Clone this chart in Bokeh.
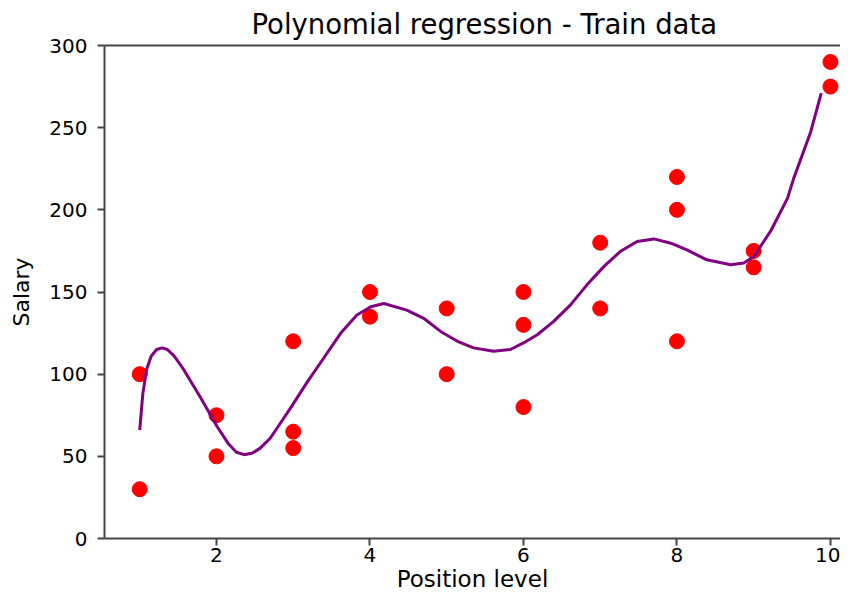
from bokeh.plotting import figure
from bokeh.models import Range1d, LinearAxis, FixedTicker
from bokeh.embed import file_html
from bokeh.resources import INLINE

# Training data
level = [1, 1, 2, 2, 3, 3, 3, 4, 4, 5, 5, 6, 6, 6, 7, 7, 8, 8, 8, 9, 9, 10, 10]
salary = [100, 30, 75, 50, 120, 65, 55, 150, 135, 140, 100, 150, 130, 80,
          180, 140, 220, 200, 120, 175, 165, 290, 275]

# Polynomial regression curve
curve_x = [1.00, 1.04, 1.09, 1.15, 1.22, 1.29, 1.36, 1.45, 1.57, 1.79, 2.01, 2.15,
           2.26, 2.36, 2.47, 2.57, 2.70, 2.83, 2.96, 3.18, 3.40, 3.62, 3.83, 4.01,
           4.18, 4.48, 4.70, 4.92, 5.14, 5.35, 5.61, 5.83, 6.00, 6.18, 6.39, 6.61,
           6.83, 7.05, 7.26, 7.48, 7.70, 7.92, 8.13, 8.39, 8.70, 8.87, 9.00, 9.22,
           9.44, 9.52, 9.74, 9.88]
curve_y = [66, 88, 103, 111, 115, 116, 115, 111, 103, 86, 68, 58,
           52.5, 51, 52, 55, 61, 70, 79, 95, 110, 125, 136, 141,
           143, 139, 134, 126, 120, 116, 114, 115, 119, 124, 132, 142,
           154.5, 165.6, 174.6, 180.7, 182.3, 179.7, 175.6, 169.6, 166.6, 167.6, 171.5, 187,
           207, 219, 247, 271]

x_ticks = [2, 4, 6, 8, 10]
y_ticks = [0, 50, 100, 150, 200, 250, 300]

FONT = "DejaVu Sans"
SPINE = "#444444"

p = figure(width=840, height=597,
           x_range=Range1d(0.541, 10.131), y_range=Range1d(0, 300),
           output_backend="svg", toolbar_location=None,
           min_border_left=104, min_border_right=0,
           min_border_top=44, min_border_bottom=59,
           title="Polynomial regression - Train data")

p.background_fill_color = "white"
p.border_fill_color = "white"
p.outline_line_color = None
p.xgrid.visible = False
p.ygrid.visible = False

p.title.text_font = FONT
p.title.text_font_size = "27.5px"
p.title.text_font_style = "normal"
p.title.text_color = "black"
p.title.align = "left"
p.title.offset = 147
p.title.standoff = 11

for ax in (p.xaxis[0], p.yaxis[0]):
    ax.axis_line_color = SPINE
    ax.axis_line_width = 2
    ax.major_tick_line_color = SPINE
    ax.major_tick_line_width = 2
    ax.major_tick_out = 7
    ax.major_tick_in = 0
    ax.minor_tick_line_color = None
    ax.major_label_text_font = FONT
    ax.major_label_text_font_size = "20px"
    ax.major_label_text_color = "black"
    ax.axis_label_text_font = FONT
    ax.axis_label_text_font_style = "normal"
    ax.axis_label_text_color = "black"

p.xaxis.ticker = FixedTicker(ticks=x_ticks)
p.yaxis.ticker = FixedTicker(ticks=y_ticks)
p.xaxis.axis_label = "Position level"
p.yaxis.axis_label = "Salary"
p.xaxis.axis_label_text_font_size = "23px"
p.yaxis.axis_label_text_font_size = "22px"
p.xaxis.major_label_standoff = 2
p.yaxis.major_label_standoff = 10
p.xaxis.axis_label_standoff = 1
p.yaxis.axis_label_standoff = 12

# top spine
top = LinearAxis(ticker=FixedTicker(ticks=[]), axis_line_color=SPINE, axis_line_width=2,
                 major_tick_line_color=None, minor_tick_line_color=None,
                 major_label_text_font_size="0px")
p.add_layout(top, "above")

p.scatter(level, salary, size=15, color="red", line_color="red")
p.line(curve_x, curve_y, line_color="purple", line_width=3)

open("out.html", "w").write(file_html(p, INLINE))
